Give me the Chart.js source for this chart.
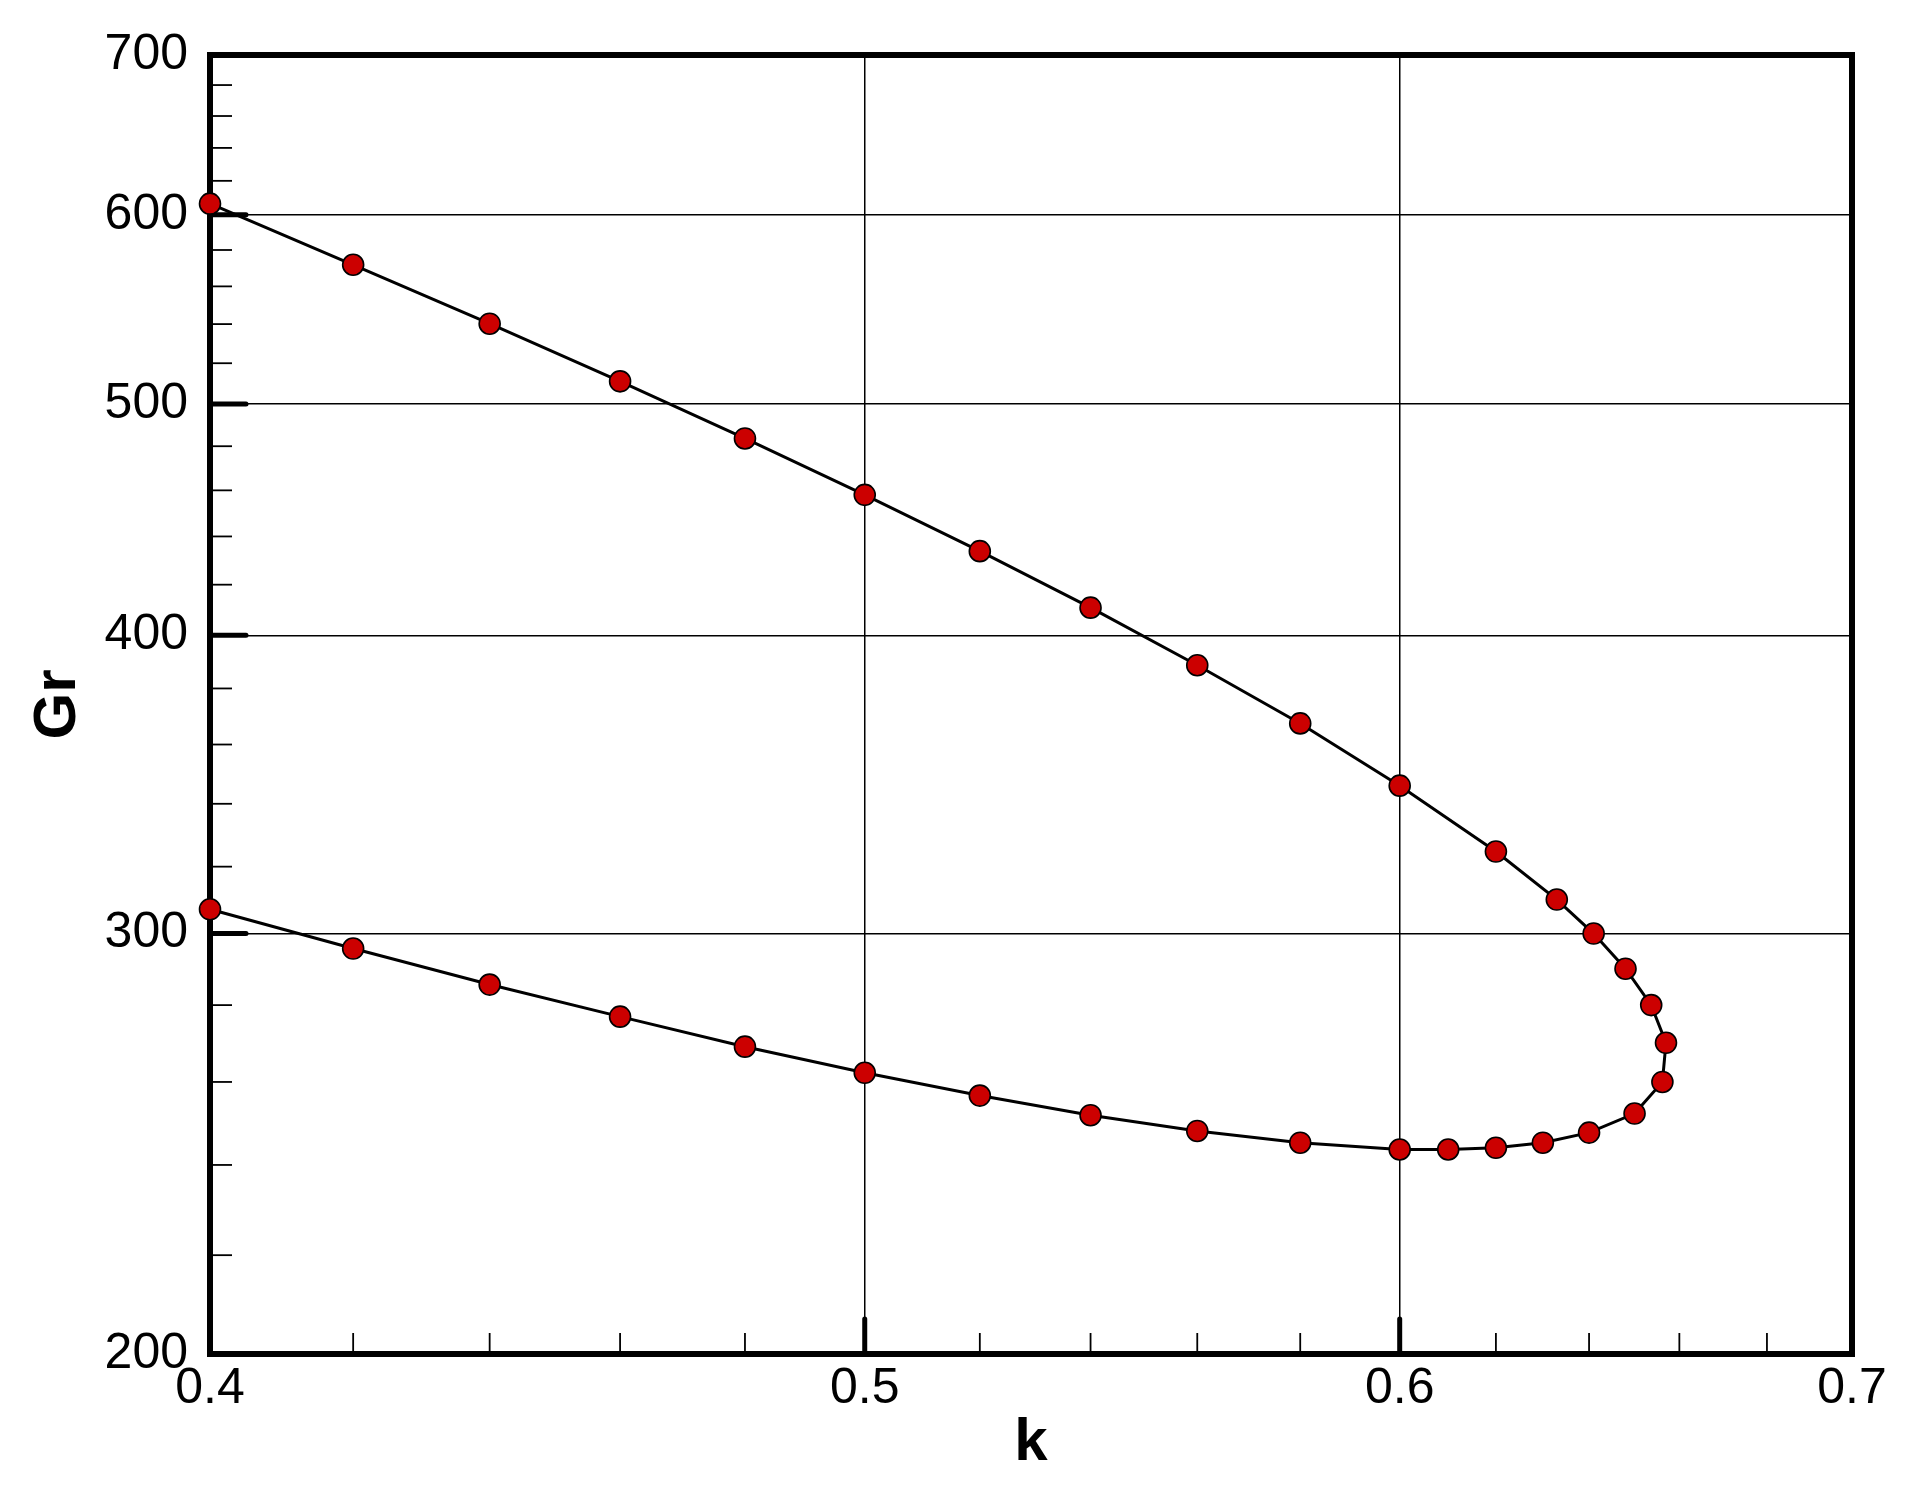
<!DOCTYPE html>
<html>
<head>
<meta charset="utf-8">
<title>Gr vs k</title>
<script src="https://cdn.jsdelivr.net/npm/chart.js@4.4.0/dist/chart.umd.min.js"></script>
<style>
  html, body { margin: 0; padding: 0; background: #fff; }
  canvas { display: block; }
</style>
</head>
<body>
<canvas id="chart" width="1917" height="1494"></canvas>
<script>
// neutral curve, traced from the upper branch round the nose and back along the lower branch
const kValues = [
  0.40, 0.42, 0.44, 0.46, 0.48, 0.50, 0.52, 0.54, 0.56, 0.58, 0.60, 0.62,
  0.633, 0.641, 0.648, 0.6537, 0.657, 0.6562, 0.650, 0.640, 0.630, 0.620, 0.610,
  0.60, 0.58, 0.56, 0.54, 0.52, 0.50, 0.48, 0.46, 0.44, 0.42, 0.40
];
const grValues = [
  606.5, 571.8, 540.2, 511.0, 483.6, 458.0, 433.8, 410.8, 388.6, 367.4, 346.0, 324.7,
  310.0, 300.0, 290.0, 280.0, 270.0, 260.0, 252.2, 247.6, 245.2, 244.0, 243.6,
  243.6, 245.2, 248.0, 251.8, 256.6, 262.3, 269.0, 276.9, 285.6, 295.7, 307.1
];

const kTicks = [0.4, 0.5, 0.6, 0.7];
const kMinorTicks = [0.42, 0.44, 0.46, 0.48, 0.52, 0.54, 0.56, 0.58, 0.62, 0.64, 0.66, 0.68];
const grTicks = [200, 300, 400, 500, 600, 700];
const grMinorTicks = [220, 240, 260, 280, 320, 340, 360, 380, 420, 440, 460, 480,
  520, 540, 560, 580, 620, 640, 660, 680];

const FONT = "'Liberation Sans', Arial, Helvetica, sans-serif";

// inward tick marks and the heavy frame, Tecplot style
const frameTicks = {
  id: "frameTicks",
  beforeDatasetsDraw(chart) {
    const { ctx, chartArea: a, scales: { x, y } } = chart;
    const seg = (x1, y1, x2, y2) => {
      ctx.beginPath();
      ctx.moveTo(x1, y1);
      ctx.lineTo(x2, y2);
      ctx.stroke();
    };
    ctx.save();
    ctx.strokeStyle = "#000";

    ctx.lineWidth = 1.8;
    ctx.lineCap = "butt";
    kMinorTicks.forEach(v => {
      const px = x.getPixelForValue(v);
      seg(px, a.bottom, px, a.bottom - 21);
    });
    grMinorTicks.forEach(v => {
      const py = y.getPixelForValue(v);
      seg(a.left, py, a.left + 22, py);
    });

    ctx.lineWidth = 5;
    ctx.lineCap = "round";
    kTicks.forEach(v => {
      const px = x.getPixelForValue(v);
      seg(px, a.bottom, px, a.bottom - 35);
    });
    grTicks.forEach(v => {
      const py = y.getPixelForValue(v);
      seg(a.left, py, a.left + 36, py);
    });

    ctx.lineWidth = 6;
    ctx.lineCap = "butt";
    ctx.strokeRect(a.left, a.top, a.right - a.left, a.bottom - a.top);
    ctx.restore();
  }
};

new Chart(document.getElementById("chart"), {
  type: "scatter",
  data: {
    datasets: [{
      data: kValues.map((k, i) => ({ x: k, y: grValues[i] })),
      showLine: true,
      borderColor: "#000",
      borderWidth: 3,
      tension: 0,
      pointRadius: 10.5,
      pointHoverRadius: 10.5,
      pointBackgroundColor: "#cc0000",
      pointBorderColor: "#000",
      pointBorderWidth: 1.6,
      clip: false
    }]
  },
  options: {
    responsive: false,
    animation: false,
    devicePixelRatio: 1,
    layout: { padding: { top: 55, right: 65, left: 0, bottom: 0 } },
    plugins: {
      legend: { display: false },
      tooltip: { enabled: false }
    },
    scales: {
      x: {
        type: "logarithmic",
        min: 0.4,
        max: 0.7,
        afterBuildTicks: s => { s.ticks = kTicks.map(v => ({ value: v })); },
        afterFit: s => { s.height = 140; },
        grid: { color: "#000", lineWidth: 1.5, drawTicks: false },
        border: { display: false },
        ticks: {
          autoSkip: false,
          maxRotation: 0,
          padding: 5,
          color: "#000",
          font: { family: FONT, size: 50, lineHeight: 1.2 },
          callback: v => String(v)
        },
        title: {
          display: true,
          text: "k",
          color: "#000",
          padding: { top: 0, bottom: 15 },
          font: { family: FONT, size: 60, weight: "bold", lineHeight: 1.2 }
        }
      },
      y: {
        type: "logarithmic",
        min: 200,
        max: 700,
        afterBuildTicks: s => { s.ticks = grTicks.map(v => ({ value: v })); },
        afterFit: s => { s.width = 210; },
        grid: { color: "#000", lineWidth: 1.5, drawTicks: false },
        border: { display: false },
        ticks: {
          autoSkip: false,
          padding: 22,
          color: "#000",
          font: { family: FONT, size: 50, lineHeight: 1.2 },
          callback: v => String(v)
        },
        title: {
          display: true,
          text: "Gr",
          color: "#000",
          padding: { top: 22, bottom: 0 },
          font: { family: FONT, size: 60, weight: "bold", lineHeight: 1.2 }
        }
      }
    }
  },
  plugins: [frameTicks]
});
</script>
</body>
</html>
